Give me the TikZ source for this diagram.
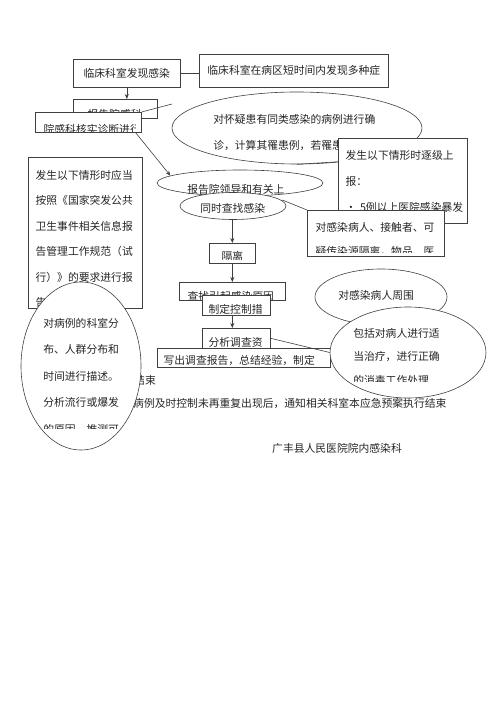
\documentclass[tikz,border=0pt]{standalone}
\usepackage{fontspec}
\setmainfont{Noto Sans CJK SC}
\usetikzlibrary{shapes.geometric,arrows.meta}

\begin{document}
\begin{tikzpicture}[x=1pt,y=-1pt,>={Stealth[length=5pt,width=4pt]}]
\tikzset{box/.style={draw=black!75, fill=white, line width=0.6pt, inner sep=0pt, anchor=north west}}
\tikzset{oval/.style={ellipse, draw=black!75, fill=white, line width=0.6pt, inner sep=0pt}}
\tikzset{words/.style={font=\fontsize{10.8}{26.5}\selectfont, text=black!85, align=left, inner sep=0pt}}
\tikzset{lines/.style={words, rectangle, minimum size=0pt, text width=220pt, anchor=base west}}
\tikzset{link/.style={draw=black!75, line width=0.6pt}}
% text of a shape: left, first baseline, right, bottom cut, text
\tikzset{inside/.style n args={5}{path picture={
  \clip ([xshift=#1]path picture bounding box.north west)
    rectangle ([xshift=-#3,yshift=#4]path picture bounding box.south east);
  \node[lines] at ([xshift=#1,yshift=-#2]path picture bounding box.north west) {#5};}}}
\useasboundingbox (0,0) rectangle (500,708);

% loose lines under the big oval
\node (ending) [words, anchor=base west] at (134,384) {结束};
\node (notice) [words, anchor=base west] at (133,407) {病例及时控制未再重复出现后，通知相关科室本应急预案执行结束};
\node (dept) [words, anchor=base west] at (272,452) {广丰县人民医院院内感染科};

\node (national) [box, minimum width=114pt, minimum height=151pt,
  inside={7pt}{22.1pt}{3pt}{0pt}{发生以下情形时应当\\[-1pt]按照《国家突发公共\\[-1pt]卫生事件相关信息报\\[-1pt]告管理工作规范（试\\[-1pt]行）》的要求进行报\\[-1pt]告}] at (28,157) {};
\node (describe) [oval, minimum width=120pt, minimum height=168pt,
  inside={22pt}{45.1pt}{20pt}{22pt}{对病例的科室分\\布、人群分布和\\时间进行描述。\\分析流行或爆发\\的原因，推测可}] at (81,366) {};

\node (find) [box, words, minimum width=107pt, minimum height=28pt] at (73,59) {临床科室发现感染};
\node (many) [box, words, minimum width=189pt, minimum height=33pt] at (199,54) {临床科室在病区短时间内发现多种症};
\node (report) [box, minimum width=84pt, minimum height=19pt,
  inside={14pt}{19pt}{3pt}{0pt}{报告院感科}] at (73,99) {};
\node (check) [box, minimum width=106pt, minimum height=20pt,
  inside={8pt}{20.8pt}{6pt}{1pt}{院感科核实诊断进行感染调查}] at (35,112) {};
\node (rate) [oval, minimum width=250pt, minimum height=72pt,
  inside={41pt}{31.1pt}{30pt}{0pt}{对怀疑患有同类感染的病例进行确\\诊，计算其罹患例，若罹患率}] at (297,128) {};
\node (escal) [box, minimum width=129pt, minimum height=85pt,
  inside={7pt}{21.1pt}{3pt}{0pt}{发生以下情形时逐级上\\[-0.5pt]报：\\[-0.5pt]• 5例以上医院感染暴发}] at (338,138) {};
\node (isolate) [box, minimum width=137pt, minimum height=46pt,
  inside={8pt}{21.1pt}{3pt}{4pt}{对感染病人、接触者、可\\[-2.5pt]疑传染源隔离，物品、医}] at (307,210) {};
\node (leader) [oval, minimum width=166pt, minimum height=26pt,
  inside={30pt}{23.1pt}{30pt}{0pt}{报告院领导和有关上}] at (240,183) {};
\node (seek) [oval, minimum width=106pt, minimum height=27pt,
  inside={20pt}{19.6pt}{15pt}{7pt}{同时查找感染}] at (233,206) {};
\node (iso) [box, minimum width=46pt, minimum height=20pt,
  inside={12pt}{17.1pt}{3pt}{4pt}{隔离}] at (209,243) {};
\node (cause) [box, minimum width=106pt, minimum height=18pt,
  inside={8pt}{18.1pt}{3pt}{0pt}{查找引起感染原因}] at (179,282) {};
\node (measure) [box, minimum width=68pt, minimum height=20pt,
  inside={6pt}{18.1pt}{8pt}{2pt}{制定控制措施}] at (202,295) {};
\node (analyse) [box, minimum width=68pt, minimum height=20pt,
  inside={6pt}{18.1pt}{8pt}{2pt}{分析调查资料}] at (202,328) {};
\node (write) [box, minimum width=173pt, minimum height=19pt,
  inside={6pt}{16.1pt}{3pt}{1pt}{写出调查报告，总结经验，制定}] at (157,348) {};
\node (around) [oval, minimum width=132pt, minimum height=56pt,
  inside={23pt}{30.1pt}{20pt}{0pt}{对感染病人周围}] at (381,297) {};
\node (treat) [oval, minimum width=156pt, minimum height=91pt,
  inside={23pt}{30.1pt}{20pt}{17pt}{包括对病人进行适\\[-3pt]当治疗，进行正确\\[-3pt]的消毒工作处理}] at (408,352.5) {};

\coordinate (tip) at (172,104);

\draw[link] (find.east) -- (find.east -| many.west);
\draw[link,->] (find.south) -- (find.south |- report.north);
\draw[link] (check.north east) -- (tip);
\draw[link,->] ([xshift=-6pt]check.south east) -- (leader.174);
\draw[link] (rate.south) -- ([yshift=19pt]escal.west);
\draw[link] ([xshift=-4pt,yshift=6pt]seek.east) -- (isolate.north west);
\draw[link,->] (seek.south -| iso.south) -- (iso.north);
\draw[link,->] (iso.south) -- (iso.south |- cause.north);
\draw[link,->] (measure.south -| iso.south) -- (analyse.north -| iso.south);
\draw[link] (analyse.east) -- (treat.west);
\end{tikzpicture}
\end{document}
